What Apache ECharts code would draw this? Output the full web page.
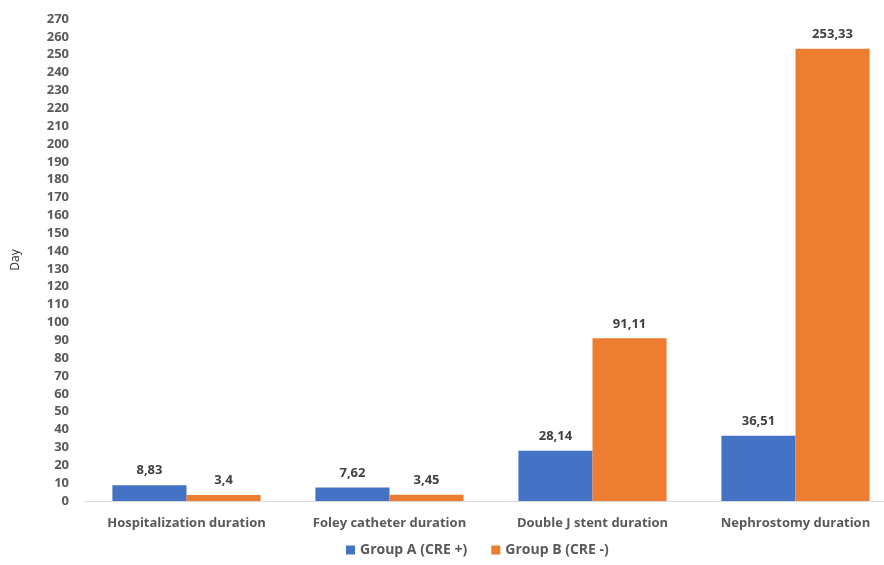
<!DOCTYPE html>
<html>
<head>
<meta charset="utf-8">
<script src="https://cdn.jsdelivr.net/npm/echarts@6/dist/echarts.min.js"></script>
<style>
  html, body { margin: 0; padding: 0; background: #fff; }
  #chart { width: 884px; height: 565px; }
</style>
</head>
<body>
<div id="chart"></div>
<script>
var categories = [
  "Hospitalization duration",
  "Foley catheter duration",
  "Double J stent duration",
  "Nephrostomy duration",
];
var groupA = [8.83, 7.62, 28.14, 36.51];
var groupB = [3.4, 3.45, 91.11, 253.33];
var seriesNames = ["Group A (CRE +)", "Group B (CRE -)"];

var font = "'Open Sans', 'Noto Sans', sans-serif";
var commaFmt = function (p) {
  return String(p.value).replace(".", ",");
};

var myChart = echarts.init(document.getElementById("chart"));
var option = {
  animation: false,
  textStyle: { fontFamily: font },
  // the plot runs a little past the right edge, as in the source picture
  grid: { left: 85, width: 812, top: 19, bottom: 64, outerBoundsMode: "none" },
  legend: {
    bottom: 3,
    left: 341,
    itemWidth: 9,
    itemHeight: 9,
    itemGap: 24,
    icon: "rect",
    textStyle: { color: "#595959", fontSize: 14, fontWeight: "bold", fontFamily: font },
  },
  xAxis: {
    type: "category",
    data: categories,
    axisLine: { lineStyle: { color: "#d9d9d9", width: 1 } },
    axisTick: { show: false },
    axisLabel: {
      color: "#595959",
      fontSize: 13,
      fontWeight: "bold",
      margin: 16,
      interval: 0,
    },
  },
  yAxis: {
    type: "value",
    min: 0,
    max: 270,
    interval: 10,
    name: "Day",
    nameLocation: "middle",
    nameRotate: 90,
    nameGap: 63,
    nameTextStyle: { color: "#333", fontSize: 12 },
    splitLine: { show: false },
    axisLine: { show: false },
    axisTick: { show: false },
    axisLabel: {
      color: "#595959",
      fontSize: 13,
      fontWeight: "bold",
      margin: 16,
    },
  },
  series: [
    {
      name: seriesNames[0],
      type: "bar",
      data: groupA,
      color: "#4472C4",
      barGap: "0%",
      barCategoryGap: "27%",
      label: {
        show: true,
        position: "top",
        distance: 8,
        formatter: commaFmt,
        color: "#404040",
        fontSize: 13,
        fontWeight: "bold",
      },
    },
    {
      name: seriesNames[1],
      type: "bar",
      data: groupB,
      color: "#ED7D31",
      barGap: "0%",
      barCategoryGap: "27%",
      label: {
        show: true,
        position: "top",
        distance: 8,
        formatter: commaFmt,
        color: "#404040",
        fontSize: 13,
        fontWeight: "bold",
      },
    },
  ],
};
myChart.setOption(option);
window.addEventListener("resize", function () {
  myChart.resize();
});
</script>
</body>
</html>
